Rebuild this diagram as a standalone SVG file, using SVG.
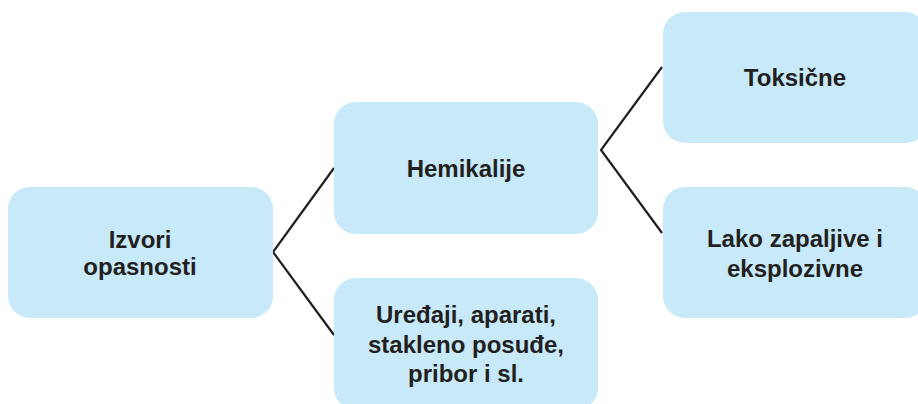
<svg xmlns="http://www.w3.org/2000/svg" width="918" height="404" viewBox="0 0 918 404">
  <style>
    .box { fill: #c7e9f8; }
    .lbl { font-family: "Liberation Sans", Arial, sans-serif; font-weight: bold; font-size: 24px; fill: #231f20; text-anchor: middle; }
    .conn { stroke: #231f20; stroke-width: 2.2; fill: none; stroke-linejoin: miter; }
  </style>
  <rect width="918" height="404" fill="#ffffff"/>
  <g id="connectors">
    <polyline class="conn" points="334,168 273,252 334,335"/>
    <polyline class="conn" points="662,67 601,150 662,233"/>
  </g>
  <g id="izvori">
    <rect class="box" x="8" y="187" width="265" height="131" rx="22"/>
    <text class="lbl" x="140" y="248">Izvori</text>
    <text class="lbl" x="140" y="275">opasnosti</text>
  </g>
  <g id="hemikalije">
    <rect class="box" x="334" y="102" width="264" height="132" rx="22"/>
    <text class="lbl" x="466" y="177">Hemikalije</text>
  </g>
  <g id="uredjaji">
    <rect class="box" x="334" y="278" width="264" height="132" rx="22"/>
    <text class="lbl" x="466" y="323">Uređaji, aparati,</text>
    <text class="lbl" x="466" y="353">stakleno posuđe,</text>
    <text class="lbl" x="466" y="382">pribor i sl.</text>
  </g>
  <g id="toksicne">
    <rect class="box" x="663" y="12" width="264" height="131" rx="22"/>
    <text class="lbl" x="795" y="86">Toksične</text>
  </g>
  <g id="zapaljive">
    <rect class="box" x="663" y="187" width="264" height="131" rx="22"/>
    <text class="lbl" x="795" y="247">Lako zapaljive i</text>
    <text class="lbl" x="795" y="277">eksplozivne</text>
  </g>
</svg>
